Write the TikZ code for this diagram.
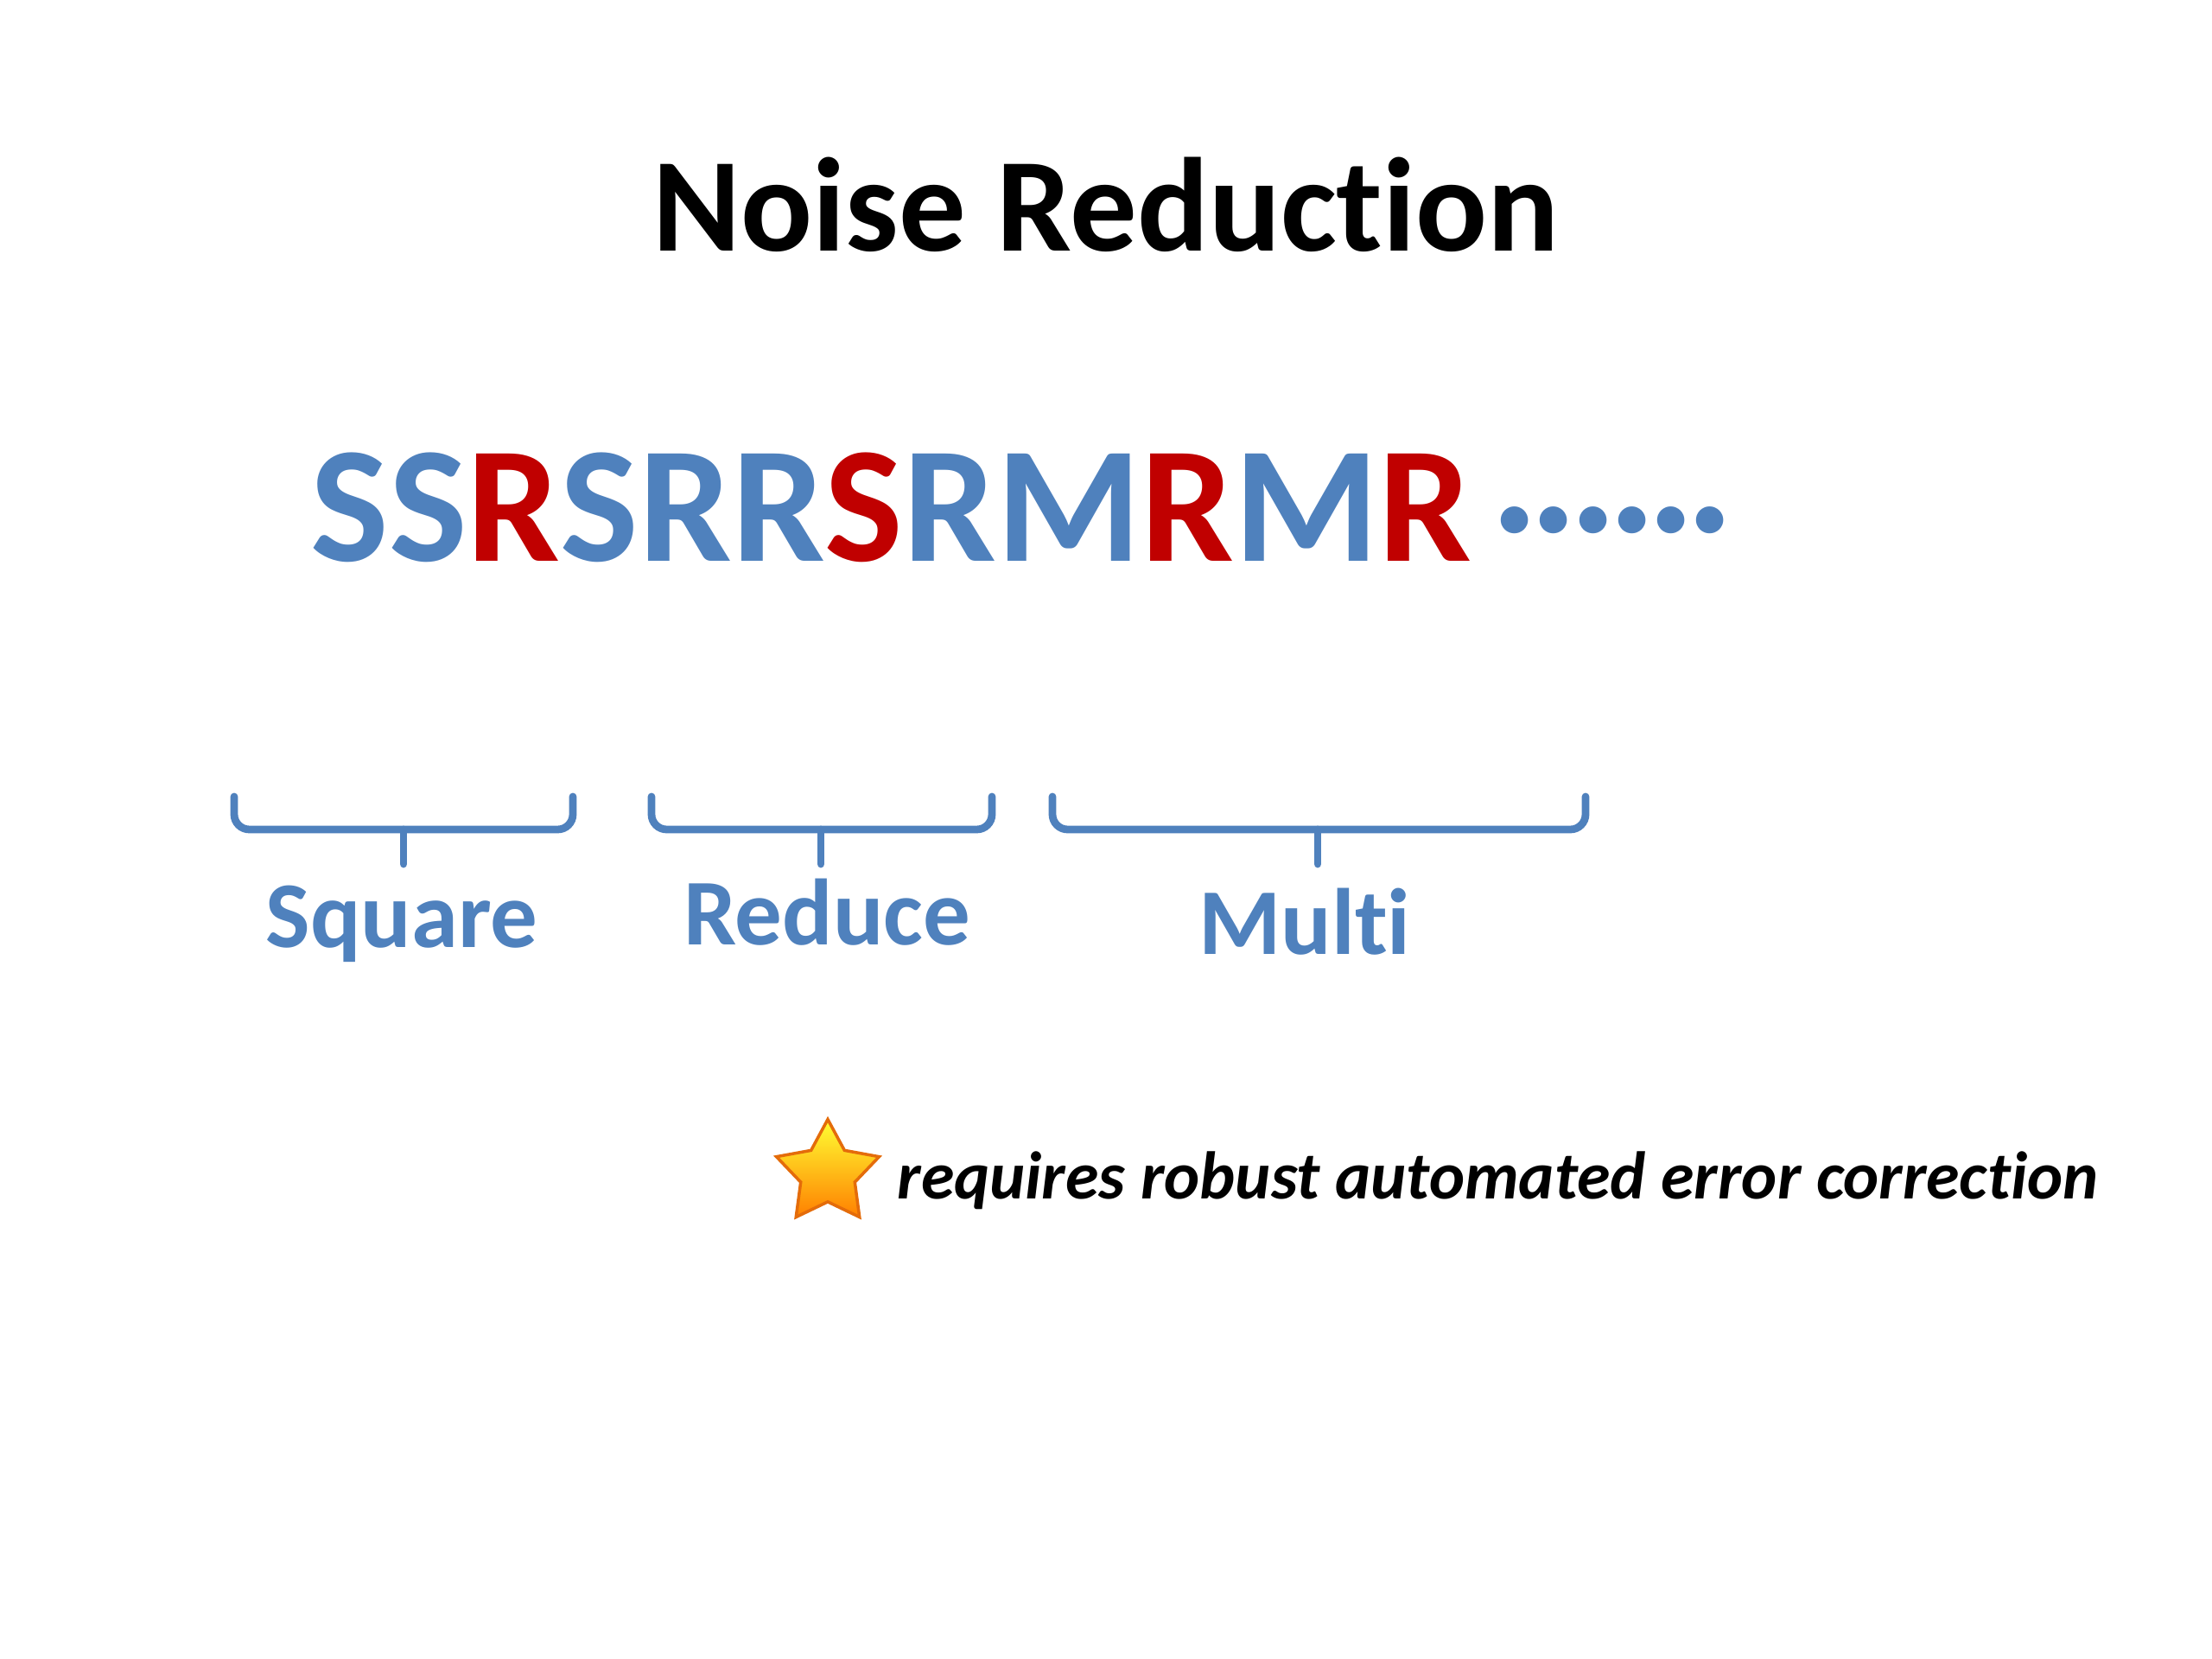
\documentclass[tikz,border=0pt]{standalone}
\usepackage{fontspec}
\setmainfont{Carlito}[Ligatures=NoCommon]
\usetikzlibrary{positioning,shapes.geometric}
\definecolor{seqblue}{HTML}{4F81BD}
\definecolor{seqred}{HTML}{C00000}
\definecolor{staredge}{HTML}{E46C0A}
\newcommand{\seqB}[1]{\textcolor{seqblue}{#1}}
\newcommand{\seqR}[1]{\textcolor{seqred}{#1}}

\begin{document}
\begin{tikzpicture}[
  title/.style={font=\fontsize{44}{50}\selectfont\bfseries,anchor=base},
  sequence/.style={font=\fontsize{54.5}{60}\selectfont\bfseries,anchor=base west,inner sep=0pt},
  steplabel/.style={font=\fontsize{31}{36}\selectfont\bfseries,text=seqblue,anchor=base,inner sep=0pt},
  brace/.style={line width=2.5pt,draw=seqblue,line cap=round},
  note/.style={font=\fontsize{22.2}{26}\selectfont\bfseries\itshape,anchor=base west,inner sep=0pt}
]
\useasboundingbox[fill=white] (0,0) rectangle (25.6,19.2);
\node[title] (head) at (12.8,16.29) {Noise Reduction};
\node[sequence] (seq) at (3.59,12.70)
  {\seqB{SS}\seqR{R}\seqB{SRR}\seqR{S}\seqB{RM}\seqR{R}\seqB{M}\seqR{R}};
\node[sequence,font=\fontsize{48}{52}\selectfont\bfseries,text=seqblue] (dots) at (17.30,12.70) {······};
% braces
\draw[brace,rounded corners=5pt] (2.71,9.98) -- (2.71,9.60) -- (6.63,9.60) -- (6.63,9.98);
\draw[brace] (4.67,9.60) -- (4.67,9.20);
\draw[brace,rounded corners=5pt] (7.54,9.98) -- (7.54,9.60) -- (11.48,9.60) -- (11.48,9.98);
\draw[brace] (9.50,9.60) -- (9.50,9.20);
\draw[brace,rounded corners=5pt] (12.18,9.98) -- (12.18,9.60) -- (18.35,9.60) -- (18.35,9.98);
\draw[brace] (15.25,9.60) -- (15.25,9.20);
\node[steplabel] (square) at (4.65,8.23) {Square};
\node[steplabel] (reduce) at (9.57,8.26) {Reduce};
\node[steplabel] (multi) at (15.10,8.15) {Multi};
% remark
\node[star,star points=5,star point ratio=1.9,minimum size=1.25cm,inner sep=0pt,
  top color=yellow!80!white,bottom color=orange,draw=staredge,line width=1pt] (mark) at (9.58,5.62) {};
\node[note] (remark) at (10.38,5.32) {requires robust automated error correction};
\end{tikzpicture}
\end{document}
